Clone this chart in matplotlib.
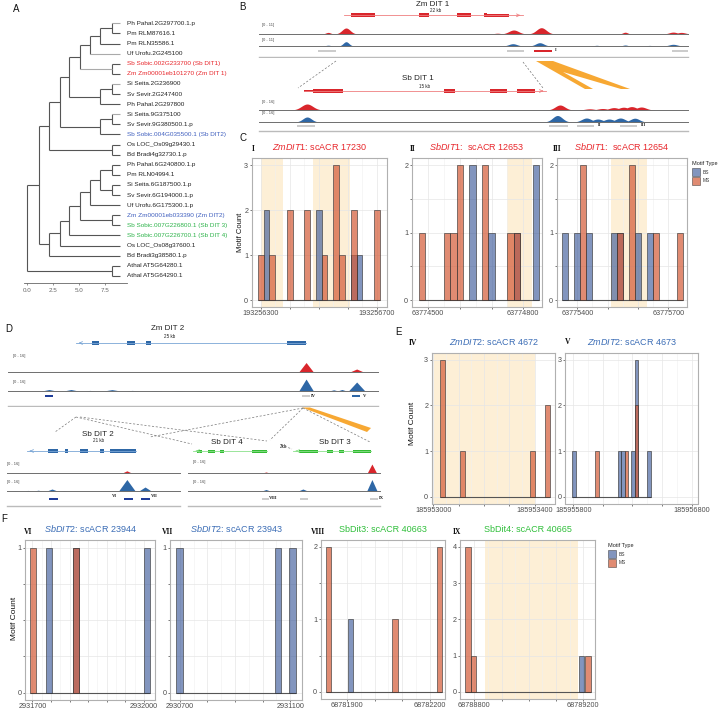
import numpy as np
import matplotlib.pyplot as plt
from matplotlib.patches import Rectangle, Polygon
from matplotlib.colors import to_rgba

plt.rcParams['font.family'] = ['Liberation Sans', 'DejaVu Sans']
plt.rcParams['mathtext.fontset'] = 'custom'
plt.rcParams['mathtext.rm'] = 'Liberation Sans'
plt.rcParams['mathtext.it'] = 'Liberation Sans:italic'

# ---------------- A: DIT gene tree ----------------
leaves = ['Ph Pahal.2G297700.1.p', 'Pm RLM87616.1', 'Pm RLN35586.1', 'Uf Urofu.2G245100',
          'Sb Sobic.002G233700 (Sb DIT1)', 'Zm Zm00001eb101270 (Zm DIT 1)',
          'Si Seita.2G236900', 'Sv Sevir.2G247400', 'Ph Pahal.2G297800', 'Si Seita.9G375100',
          'Sv Sevir.9G380500.1.p', 'Sb Sobic.004G035500.1 (Sb DIT2)', 'Os LOC_Os09g29430.1',
          'Bd Bradi4g32730.1.p', 'Ph Pahal.6G240800.1.p', 'Pm RLN04994.1', 'Si Seita.6G187500.1.p',
          'Sv Sevir.6G194000.1.p', 'Uf Urofu.6G175300.1.p', 'Zm Zm00001eb033390 (Zm DIT2)',
          'Sb Sobic.007G226800.1 (Sb DIT 3)', 'Sb Sobic.007G226700.1 (Sb DIT 4)',
          'Os LOC_Os08g37600.1', 'Bd Bradi3g38580.1.p', 'Athal AT5G64280.1', 'Athal AT5G64290.1']
leaf_groups = ['k'] * 4 + ['r', 'r'] + ['k'] * 5 + ['b'] + ['k'] * 7 + ['b', 'g', 'g'] + ['k'] * 4
# (child a, child b, node depth); new node ids start at 26
tree_merges = [(0, 1, 8.1), (26, 2, 7.0), (27, 3, 6.05), (4, 5, 8.1), (28, 29, 5.07),
               (6, 7, 8.1), (31, 8, 7.0), (30, 32, 4.05), (9, 10, 8.1), (34, 11, 7.0),
               (33, 35, 3.1), (12, 13, 8.1), (36, 37, 2.13),
               (14, 15, 8.1), (16, 17, 8.1), (39, 40, 7.0), (41, 18, 6.05), (19, 20, 8.1),
               (42, 43, 5.07), (44, 21, 4.05), (45, 22, 3.1), (46, 23, 2.13),
               (38, 47, 1.08), (24, 25, 8.1), (48, 49, 0.0)]
light_branches = [0, 3, 6, 9, 29]
tree_tip = 8.9

# ---------------- B: Zm DIT1 / Sb DIT1 tracks (kb from track start) ----------------
zm1_gene = (10.45, 32.45)
zm1_exons = [(11.27, 14.26), (19.70, 20.89), (24.34, 26.02), (27.65, 28.06)]
zm1_utr = [(28.06, 30.76)]
zm1_red_c = [8.5, 10.7, 29.3, 31.3, 34.7, 45.0, 50.9, 51.9]
zm1_red_h = [1.6, 6.0, 0.8, 4.0, 6.3, 1.8, 1.9, 1.6]
zm1_red_w = [0.3, 0.5, 0.4, 0.6, 0.6, 0.3, 0.5, 0.5]
zm1_blue_c = [8.5, 10.7, 31.2, 34.5, 41.5, 45.0, 48.0, 50.9]
zm1_blue_h = [0.8, 4.3, 2.3, 3.3, 0.7, 1.0, 0.6, 1.7]
zm1_blue_w = [0.3, 0.35, 0.5, 0.5, 0.3, 0.3, 0.3, 0.5]
zm1_grey = [(7.25, 9.46), (30.48, 32.57), (50.76, 52.73)]
zm1_acr = [(33.8, 36.01)]

sb1_gene = (2.79, 17.79)
sb1_exons = [(3.35, 5.21), (11.47, 12.15), (14.32, 15.37), (16.0, 17.11)]
sb1_utr = [(2.79, 3.35)]
sb1_red_c = [2.98, 18.66, 20.5, 21.3, 22.0, 22.6, 23.1, 23.7]
sb1_red_h = [6.0, 5.0, 1.2, 1.5, 2.4, 2.8, 3.4, 3.0]
sb1_red_w = [0.35, 0.3, 0.3, 0.3, 0.3, 0.3, 0.3, 0.3]
sb1_blue_c = [2.98, 18.5, 20.3, 21.0, 21.7, 22.4, 23.3]
sb1_blue_h = [5.0, 6.5, 4.0, 3.0, 3.0, 4.0, 3.8]
sb1_blue_w = [0.27, 0.3, 0.3, 0.3, 0.3, 0.3, 0.28]
sb1_grey = [(2.36, 3.47), (17.98, 19.16), (19.71, 20.77), (22.38, 23.43)]

# ---------------- D: Zm DIT2 and Sb DIT2/3/4 tracks ----------------
zm2_gene = (7.39, 32.39)
zm2_exons = [(9.13, 9.89), (12.93, 13.8), (15.0, 15.54), (30.33, 31.74)]
zm2_utr = [(31.74, 32.39)]
zm2_red_c = [32.4, 37.9]
zm2_red_h = [9.5, 3.0]
zm2_red_w = [0.8, 0.75]
zm2_blue_c = [4.46, 6.85, 8.9, 11.3, 13.5, 16.0, 18.5, 21.0, 23.5, 26.0, 32.4, 35.4, 36.3, 37.9]
zm2_blue_h = [1.5, 1.5, 0.6, 1.4, 0.6, 0.5, 0.5, 0.5, 0.5, 0.4, 12.0, 1.2, 1.5, 9.0]
zm2_blue_w = [0.8, 0.8, 0.6, 0.9, 0.8, 0.8, 0.8, 0.8, 0.8, 0.6, 0.8, 0.5, 0.5, 0.9]
zm2_dark = [(3.98, 4.89)]
zm2_grey = [(31.96, 32.83)]
zm2_blue_bar = [(37.39, 38.26)]

sb2_gene = (3.85, 24.85)
sb2_exons = [(7.9, 9.83), (11.18, 11.75), (14.07, 15.6), (17.9, 18.7), (19.85, 24.85)]
sb2_red_c = [23.1]
sb2_red_h = [2.2]
sb2_red_w = [0.9]
sb2_blue_c = [1.5, 4.0, 6.0, 8.67, 11.0, 23.1, 26.6]
sb2_blue_h = [0.4, 0.6, 0.8, 2.0, 0.5, 11.5, 4.0]
sb2_blue_w = [0.6, 0.6, 0.8, 1.0, 0.6, 1.6, 1.2]
sb2_dark = [(8.1, 9.8), (22.5, 24.3), (25.8, 27.55)]

sb4_gene = (0.96, 15.19)
sb4_exons = [(1.73, 2.69), (3.85, 5.19), (6.15, 6.92), (12.31, 15.19)]
sb3_gene = (20.19, 35.19)
sb3_exons = [(21.35, 25.0), (26.73, 27.88), (29.04, 30.0), (31.73, 35.19)]
sb34_red_c = [15.0, 35.38]
sb34_red_h = [1.0, 9.0]
sb34_red_w = [0.7, 0.9]
sb34_blue_c = [5.0, 15.0, 22.1, 28.0, 35.38]
sb34_blue_h = [0.4, 1.5, 2.0, 0.4, 11.5]
sb34_blue_w = [0.6, 0.8, 0.9, 0.6, 1.0]
sb34_grey = [(14.23, 15.58), (21.5, 23.1), (35.0, 36.5)]

# ---------------- C / E / F: motif counts per bin ----------------
c1_bs_pos = [193256320, 193256500, 193256620, 193256640]
c1_bs_cnt = [2, 2, 1, 1]
c1_ms_pos = [193256300, 193256340, 193256400, 193256460, 193256520, 193256560, 193256580, 193256620, 193256700]
c1_ms_cnt = [1, 1, 2, 2, 1, 3, 1, 2, 2]
c1_bands = [(193256300, 193256378), (193256480, 193256608)]

c2_bs_pos = [63774640, 63774700, 63774780, 63774840]
c2_bs_cnt = [2, 1, 1, 2]
c2_ms_pos = [63774480, 63774560, 63774580, 63774600, 63774680, 63774760, 63774780]
c2_ms_cnt = [1, 1, 1, 2, 2, 1, 1]
c2_bands = [(63774748, 63774826)]

c3_bs_pos = [63775360, 63775400, 63775440, 63775520, 63775540, 63775600, 63775640]
c3_bs_cnt = [1, 1, 1, 1, 1, 1, 1]
c3_ms_pos = [63775420, 63775540, 63775580, 63775660, 63775740]
c3_ms_cnt = [2, 1, 2, 1, 1]
c3_bands = [(63775510, 63775631)]

e4_bs_pos, e4_bs_cnt = [], []
e4_ms_pos = [185953035, 185953115, 185953390, 185953450]
e4_ms_cnt = [3, 1, 1, 2]
e4_bands = [(185953003, 185953400)]

e5_bs_pos = [185955805, 185956190, 185956220, 185956305, 185956335, 185956440]
e5_bs_cnt = [1, 1, 1, 1, 3, 1]
e5_ms_pos = [185956000, 185956250, 185956335]
e5_ms_cnt = [1, 1, 2]

f6_bs_pos = [2931745, 2931818, 2932008]
f6_bs_cnt = [1, 1, 1]
f6_ms_pos = [2931701, 2931818]
f6_ms_cnt = [1, 1]

f7_bs_pos = [2930700, 2931056, 2931108]
f7_bs_cnt = [1, 1, 1]
f7_ms_pos, f7_ms_cnt = [], []

f8_bs_pos = [68781914]
f8_bs_cnt = [1]
f8_ms_pos = [68781834, 68782074, 68782234]
f8_ms_cnt = [2, 1, 2]

f9_bs_pos = [68789193]
f9_bs_cnt = [1]
f9_ms_pos = [68788776, 68788797, 68789218]
f9_ms_cnt = [4, 1, 1]
f9_bands = [(68788840, 68789180)]

# ---------------- style ----------------
W, H = 720, 711
RED = '#d9262c'
BLUE = '#2e67a6'
GREEN = '#33bb33'
BS_COL = '#2f4f94'
MS_COL = '#d45a37'
BAND = '#fdefd6'
EDGE = (0.2, 0.2, 0.2, 0.85)
ORANGE = '#f7a833'
GCOL = {'k': '#222222', 'r': '#e8262b', 'b': '#3f5fbf', 'g': '#2db34a'}

fig = plt.figure(figsize=(7.2, 7.11), dpi=100)


def px_axes(x0, y0, x1, y1):
    return fig.add_axes([x0 / W, 1 - y1 / H, (x1 - x0) / W, (y1 - y0) / H])


# ---- A ----
ax = px_axes(20, 12, 240, 283)
ax.set_xlim(-0.70, 20.45)
ax.set_ylim(26.71, -0.12)
pos = {i: (tree_tip, i + 1) for i in range(len(leaves))}
for k, (a, b, nx) in enumerate(tree_merges):
    (ax_, ay), (bx, by) = pos[a], pos[b]
    ax.plot([nx, nx], [ay, by], color='#555555', lw=0.8, solid_capstyle='butt')
    for cid, cx, cy in ((a, ax_, ay), (b, bx, by)):
        col = '#aaaaaa' if cid in light_branches else '#555555'
        ax.plot([nx, cx], [cy, cy], color=col, lw=0.8, solid_capstyle='butt')
    pos[26 + k] = (nx, (ay + by) / 2)
for i, (name, g) in enumerate(zip(leaves, leaf_groups)):
    ax.text(tree_tip + 0.65, i + 1, name, fontsize=4.6, color=GCOL[g], va='center', ha='left')
for s in ('top', 'right', 'left'):
    ax.spines[s].set_visible(False)
ax.spines['bottom'].set_bounds(-0.35, 9.6)
ax.spines['bottom'].set_color('#666666')
ax.spines['bottom'].set_linewidth(0.6)
ax.set_yticks([])
ax.set_xticks([0, 2.5, 5, 7.5])
ax.set_xticklabels(['0.0', '2.5', '5.0', '7.5'])
ax.tick_params(axis='x', labelsize=4.5, colors='#666666', length=1.5, width=0.5, pad=2)
ax.patch.set_alpha(0)


# ---- genome browser blocks ----
def signal(ax, span, base, centers, heights, widths, color, shape):
    x = np.linspace(span[0], span[1], 1500)
    y = np.zeros_like(x)
    for c, h, w in zip(centers, heights, widths):
        if shape == 'tri':
            y = np.maximum(y, h * np.clip(1 - np.abs(x - c) / w, 0, None))
        else:
            y = np.maximum(y, h * np.exp(-0.5 * ((x - c) / w) ** 2))
    ax.fill_between(x, base, base - y, color=color, lw=0)
    ax.plot(span, [base, base], color='#6e6e6e', lw=0.7)


def gene(ax, y, g, exons, utrs, color, line_color, strand, head, thick=3.8):
    ax.plot(g, [y, y], color=line_color, lw=0.6)
    for a, b in exons:
        ax.add_patch(Rectangle((a, y - thick / 2), b - a, thick, color=color, lw=0))
    for a, b in utrs:
        ax.add_patch(Rectangle((a, y - thick / 3), b - a, thick * 2 / 3, color=color, lw=0))
    tip, tail = (g[1], g[1] - head) if strand == '+' else (g[0], g[0] + head)
    ax.annotate('', xy=(tip, y), xytext=(tail, y),
                arrowprops=dict(arrowstyle='->', color=line_color, lw=0.6, mutation_scale=5))


def bars(ax, y, spans, color, hgt=2.2):
    for a, b in spans:
        ax.add_patch(Rectangle((a, y - hgt / 2), b - a, hgt, color=color, lw=0))


def block(x0, y0, x1, y1, xlim):
    b = px_axes(x0, y0, x1, y1)
    b.set_xlim(xlim)
    b.set_ylim(y1, y0)
    b.axis('off')
    return b


# B top: Zm DIT1
b1 = block(255, 0, 690, 58, (-0.49, 52.97))
gene(b1, 15.3, zm1_gene, zm1_exons, zm1_utr, RED, '#ef7f80', '+', 0.8)
signal(b1, (0, 52.7), 34, zm1_red_c, zm1_red_h, zm1_red_w, RED, 'gauss')
signal(b1, (0, 52.7), 46, zm1_blue_c, zm1_blue_h, zm1_blue_w, BLUE, 'gauss')
bars(b1, 51, zm1_grey, '#cccccc')
bars(b1, 51, zm1_acr, RED)
b1.plot([0, 52.7], [57, 57], color='#bbbbbb', lw=1.0)

# B bottom: Sb DIT1
b2 = block(255, 58, 690, 135, (-0.25, 26.72))
gene(b2, 91, sb1_gene, sb1_exons, sb1_utr, RED, '#ef7f80', '+', 0.4)
signal(b2, (0, 26.6), 110, sb1_red_c, sb1_red_h, sb1_red_w, RED, 'gauss')
signal(b2, (0, 26.6), 122, sb1_blue_c, sb1_blue_h, sb1_blue_w, BLUE, 'gauss')
bars(b2, 126, sb1_grey, '#cccccc')
b2.plot([0, 26.6], [131, 131], color='#bbbbbb', lw=1.0)

# D top: Zm DIT2
d1 = block(0, 318, 385, 407, (-0.87, 40.98))
gene(d1, 343, zm2_gene, zm2_exons, zm2_utr, BLUE, '#7aa6d6', '-', 0.8, thick=4.6)
signal(d1, (0, 40.2), 372, zm2_red_c, zm2_red_h, zm2_red_w, RED, 'tri')
signal(d1, (0, 40.2), 391, zm2_blue_c, zm2_blue_h, zm2_blue_w, BLUE, 'tri')
bars(d1, 396, zm2_dark, '#1f3d99')
bars(d1, 396, zm2_grey, '#cccccc')
bars(d1, 396, zm2_blue_bar, BLUE)
d1.plot([0, 40.2], [406, 406], color='#bbbbbb', lw=1.0)

# D bottom left: Sb DIT2
d2 = block(0, 425, 185, 510, (-1.35, 34.3))
gene(d2, 451, sb2_gene, sb2_exons, [], BLUE, '#7aa6d6', '-', 1.2, thick=3.2)
signal(d2, (0, 33.3), 473, sb2_red_c, sb2_red_h, sb2_red_w, RED, 'tri')
signal(d2, (0, 33.3), 491, sb2_blue_c, sb2_blue_h, sb2_blue_w, BLUE, 'tri')
bars(d2, 499, sb2_dark, '#1f3d99')
d2.plot([0, 33.3], [506, 506], color='#bbbbbb', lw=1.0)

# D bottom right: Sb DIT4 and Sb DIT3
d3 = block(185, 425, 385, 510, (-0.58, 37.9))
gene(d3, 451, sb4_gene, sb4_exons, [], GREEN, '#8be08b', '-', 1.2, thick=3.0)
gene(d3, 451, sb3_gene, sb3_exons, [], GREEN, '#8be08b', '-', 1.2, thick=3.0)
signal(d3, (0, 36.9), 473, sb34_red_c, sb34_red_h, sb34_red_w, RED, 'tri')
signal(d3, (0, 36.9), 491, sb34_blue_c, sb34_blue_h, sb34_blue_w, BLUE, 'tri')
bars(d3, 499, sb34_grey, '#cccccc')
d3.plot([0, 36.9], [506, 506], color='#bbbbbb', lw=1.0)


# ---- motif count panels ----
def motif_panel(box, xlim, ylim, xticks, yticks, ylabels, width, bs, ms, bands,
                title, tcolor):
    x0, y0, x1, y1 = box
    ax = px_axes(x0, y0, x1, y1)
    ax.set_xlim(xlim)
    ax.set_ylim(ylim)
    for a, b in bands:
        ax.axvspan(a, b, color=BAND, lw=0, zorder=0.2)
    ax.set_xticks(xticks)
    ax.set_xticklabels([str(t) if i in (0, len(xticks) - 1) else ''
                        for i, t in enumerate(xticks)])
    ax.set_xticks([(p + q) / 2 for p, q in zip(xticks[:-1], xticks[1:])], minor=True)
    ax.set_yticks(yticks)
    ax.set_yticklabels(ylabels)
    ax.grid(True, which='major', color='#e6e6e6', lw=0.5)
    ax.grid(True, which='minor', axis='x', color='#f0f0f0', lw=0.4)
    ax.set_axisbelow(True)
    allx = list(bs[0]) + list(ms[0])
    ax.hlines(0, min(allx) - width / 2, max(allx) + width / 2, color='#555555', lw=0.8, zorder=2)
    if len(bs[0]):
        ax.bar(bs[0], bs[1], width=width, facecolor=to_rgba(BS_COL, 0.6),
               edgecolor=EDGE, lw=0.5, zorder=3)
    if len(ms[0]):
        ax.bar(ms[0], ms[1], width=width, facecolor=to_rgba(MS_COL, 0.7),
               edgecolor=EDGE, lw=0.5, zorder=4)
    for s in ax.spines.values():
        s.set_color('#b0b0b0')
        s.set_linewidth(0.8)
    ax.tick_params(which='major', labelsize=5.2, labelcolor='#4d4d4d', color='#444444',
                   length=1.5, width=0.5, pad=1)
    ax.tick_params(which='minor', length=0)
    ax.text(0.5, 1.0 + 6 / (y1 - y0), title, transform=ax.transAxes, ha='center',
            va='bottom', fontsize=6.5, color=tcolor)
    return ax


motif_panel((251.7, 158.3, 386.7, 306.8), (193256269, 193256734), (-0.15, 3.15),
            [193256300, 193256400, 193256500, 193256600, 193256700], [0, 1, 2, 3],
            ['0', '1', '2', '3'], 20, (c1_bs_pos, c1_bs_cnt), (c1_ms_pos, c1_ms_cnt),
            c1_bands, r'$\it{ZmDIT1}$: scACR 17230', '#e8262b')
motif_panel((411.7, 158.3, 541.7, 306.8), (63774448, 63774858), (-0.1, 2.1),
            [63774500, 63774600, 63774700, 63774800], [0, 0.5, 1, 1.5, 2],
            ['0', '', '1', '', '2'], 20, (c2_bs_pos, c2_bs_cnt), (c2_ms_pos, c2_ms_cnt),
            c2_bands, r'$\it{SbDIT1}$:  scACR 12653', '#e8262b')
motif_panel((556.7, 158.3, 686.7, 306.8), (63775332, 63775761), (-0.1, 2.1),
            [63775400, 63775500, 63775600, 63775700], [0, 0.5, 1, 1.5, 2],
            ['0', '', '1', '', '2'], 20, (c3_bs_pos, c3_bs_cnt), (c3_ms_pos, c3_ms_cnt),
            c3_bands, r'$\it{SbDIT1}$:  scACR 12654', '#e8262b')
motif_panel((431.7, 353, 555, 503.5), (185952994, 185953479), (-0.15, 3.15),
            [185953000, 185953100, 185953200, 185953300, 185953400], [0, 1, 2, 3],
            ['0', '1', '2', '3'], 20, (e4_bs_pos, e4_bs_cnt), (e4_ms_pos, e4_ms_cnt),
            e4_bands, r'$\it{ZmDIT2}$: scACR 4672', '#3a6cb5')
motif_panel((565, 353, 698.3, 503.5), (185955730, 185956856), (-0.15, 3.15),
            [185955800, 185956050, 185956300, 185956550, 185956800], [0, 1, 2, 3],
            ['0', '1', '2', '3'], 30, (e5_bs_pos, e5_bs_cnt), (e5_ms_pos, e5_ms_cnt),
            [], r'$\it{ZmDIT2}$: scACR 4673', '#3a6cb5')
motif_panel((25, 540.4, 155, 700), (2931680, 2932030), (-0.05, 1.05),
            [2931700, 2931750, 2931800, 2931850, 2931900, 2931950, 2932000],
            [0, 0.25, 0.5, 0.75, 1], ['0', '', '', '', '1'], 15,
            (f6_bs_pos, f6_bs_cnt), (f6_ms_pos, f6_ms_cnt), [],
            r'$\it{SbDIT2}$: scACR 23944', '#3a6cb5')
motif_panel((170, 540.4, 301.7, 700), (2930664, 2931142), (-0.05, 1.05),
            [2930700, 2930800, 2930900, 2931000, 2931100],
            [0, 0.25, 0.5, 0.75, 1], ['0', '', '', '', '1'], 25,
            (f7_bs_pos, f7_bs_cnt), (f7_ms_pos, f7_ms_cnt), [],
            r'$\it{SbDIT2}$: scACR 23943', '#3a6cb5')
motif_panel((320.7, 539.5, 445, 699), (68781806, 68782254), (-0.1, 2.1),
            [68781900, 68782000, 68782100, 68782200], [0, 0.5, 1, 1.5, 2],
            ['0', '', '1', '', '2'], 20, (f8_bs_pos, f8_bs_cnt), (f8_ms_pos, f8_ms_cnt),
            [], 'SbDit3: scACR 40663', '#2fbf3a')
motif_panel((460, 539.5, 595, 699), (68788747, 68789243), (-0.2, 4.2),
            [68788800, 68788900, 68789000, 68789100, 68789200], [0, 1, 2, 3, 4],
            ['0', '1', '2', '3', '4'], 20, (f9_bs_pos, f9_bs_cnt), (f9_ms_pos, f9_ms_cnt),
            f9_bands, 'SbDit4: scACR 40665', '#2fbf3a')

# ---- overlay: letters, labels, connectors, legends ----
ov = fig.add_axes([0, 0, 1, 1])
ov.set_xlim(0, W)
ov.set_ylim(H, 0)
ov.axis('off')
ov.patch.set_alpha(0)

for letter, x, y in [('A', 16, 9), ('B', 242, 7), ('C', 243, 138), ('D', 9, 329),
                     ('E', 399, 332), ('F', 4, 519)]:
    ov.text(x, y, letter, fontsize=7, ha='center', va='center', color='#111111')

for t, x, y in [('I', 253, 149), ('II', 413, 149), ('III', 557, 149), ('IV', 413, 343),
                ('V', 568, 342), ('VI', 28, 532), ('VII', 168, 532), ('VIII', 318, 532),
                ('IX', 457, 532)]:
    ov.text(x, y, t, fontsize=5.5, ha='center', va='center', family='Liberation Serif',
            weight='bold', color='#111111')

for t, x, y, fs in [('Zm DIT 1', 433, 4, 5.8), ('22 kb', 436, 10.5, 3.3),
                    ('Sb DIT 1', 418, 79, 5.8), ('15 kb', 425, 86, 3.3),
                    ('Zm DIT 2', 168, 329, 5.8), ('25 kb', 170, 336, 3.3),
                    ('Sb DIT 2', 98, 434, 5.8), ('21 kb', 99, 441, 3.3),
                    ('Sb DIT 4', 227, 442, 5.8), ('Sb DIT 3', 335, 442, 5.8),
                    ('2kb', 283, 446, 3.3)]:
    ov.text(x, y, t, fontsize=fs, ha='center', va='center', color='#222222')

for t, x, y in [('[0 - 11]', 262, 25), ('[0 - 11]', 262, 40), ('[0 - 16]', 262, 102),
                ('[0 - 16]', 262, 113), ('[0 - 16]', 13, 356), ('[0 - 16]', 13, 382),
                ('[0 - 16]', 7, 464), ('[0 - 16]', 7, 482), ('[0 - 16]', 193, 462),
                ('[0 - 16]', 193, 482)]:
    ov.text(x, y, t, fontsize=2.8, ha='left', va='center', color='#444444')

for t, x, y in [('I', 556, 50), ('II', 600, 125), ('III', 644, 125), ('IV', 313, 396),
                ('V', 365, 396), ('VI', 115, 496), ('VII', 154, 496), ('VIII', 273, 498),
                ('IX', 381, 498)]:
    ov.text(x, y, t, fontsize=3.3, ha='center', va='center', family='Liberation Serif',
            weight='bold', color='#222222')

dashes = [((336, 61), (298, 88)), ((523, 62), (543, 88)),
          ((76, 417), (55, 432)), ((76, 417), (192, 444)), ((80, 417), (267, 441)),
          ((303, 408), (150, 437)), ((303, 408), (270, 440)), ((303, 408), (370, 442)),
          ((281, 445), (292, 449))]
for (xa, ya), (xb, yb) in dashes:
    ov.plot([xa, xb], [ya, yb], color='#777777', lw=0.5, ls=(0, (3, 2.5)))

ov.add_patch(Polygon([(536, 61), (553, 61), (630, 89), (621, 89), (563, 72), (593, 89),
                      (585, 89)], closed=True, color=ORANGE, lw=0))
ov.add_patch(Polygon([(302, 407.5), (310, 407.5), (371, 428), (367, 432)], closed=True,
                     color=ORANGE, lw=0))

for (lx, ly) in [(692, 163), (608, 545)]:
    ov.text(lx, ly, 'Motif Type', fontsize=4, ha='left', va='center', color='#222222')
    for j, (lab, col, a) in enumerate([('BS', BS_COL, 0.6), ('MS', MS_COL, 0.7)]):
        ov.add_patch(Rectangle((lx, ly + 5 + j * 9), 8, 8, facecolor=to_rgba(col, a),
                               edgecolor=EDGE, lw=0.4))
        ov.text(lx + 11, ly + 9 + j * 9, lab, fontsize=3.5, ha='left', va='center',
                color='#333333')

for x, y, fs in [(240, 232, 5.5), (413, 423, 6), (15, 618, 6)]:
    ov.text(x, y, 'Motif Count', fontsize=fs, rotation=90, ha='center', va='center',
            color='#111111')

fig.savefig('out.png', dpi=100)
